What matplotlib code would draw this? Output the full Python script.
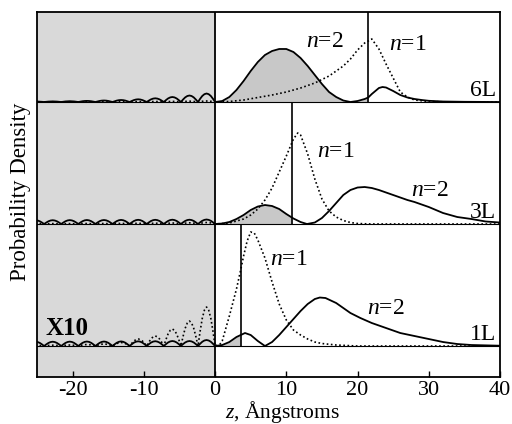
import matplotlib
matplotlib.use('Agg')
import matplotlib.pyplot as plt
import numpy as np

plt.rcParams['font.family'] = ['Liberation Serif', 'DejaVu Serif']
plt.rcParams['mathtext.fontset'] = 'custom'
plt.rcParams['mathtext.it'] = 'Liberation Serif:italic'
plt.rcParams['mathtext.rm'] = 'Liberation Serif'
plt.rcParams['axes.unicode_minus'] = False

# ---- data (probability density, arbitrary units) ----
panels = ['1L', '3L', '6L']
well_edge = [3.6, 10.8, 21.5]

# barrier side (z < 0): ripple nodes and the peak of each ripple, nearest z=0 first
ripple_nodes = [0, -2.4, -4.8, -7.2, -9.6, -12.0, -14.4, -16.8, -19.2, -21.6, -24.0, -26.4]
rip_1L_n1 = [39, 25, 17, 10, 7, 3.5, 2, 1.5, 1, 0.8, 0.6]
rip_1L_n2 = [6, 5, 5, 4.8, 4.7, 4.6, 4.5, 4.5, 4.4, 4.3, 4.3]
rip_3L_n1 = [1.5, 1.2, 1.0, 0.8, 0.7, 0.6, 0.5, 0.5, 0.4, 0.4, 0.4]
rip_3L_n2 = [4.5, 4.3, 4.3, 4.2, 4.2, 4.1, 4.0, 4.0, 3.9, 3.8, 3.8]
rip_6L_n1 = [1.0, 0.8, 0.6, 0.5, 0.4, 0.3, 0.3, 0.2, 0.2, 0.2, 0.2]
rip_6L_n2 = [8.5, 6.5, 5, 3.7, 2.7, 2, 1.5, 1.1, 0.8, 0.6, 0.5]

# film side (z >= 0)
z_1L_n1 = [0, 0.7, 1, 2, 3, 3.5, 4, 4.5, 5, 5.5, 6, 7, 8, 9, 10, 11, 12, 13, 14, 15, 17, 20, 40]
h_1L_n1 = [0, 2, 5, 30, 57, 73, 90, 105, 114, 113, 106, 88, 64, 42, 26, 16, 11, 7, 4, 2.5, 1, 0, 0]
z_1L_n2 = [0, 1, 2, 3, 3.6, 4.2, 5, 6, 7, 8, 9, 10, 11, 12, 13, 14, 14.7, 15.5, 17, 18, 19, 20.4,
           22, 24, 26, 28, 30, 32, 34, 36, 40]
h_1L_n2 = [0, 1, 4, 9, 11, 13, 11, 5, 0, 4, 11, 19, 27, 35, 42, 47, 48.5, 48, 43, 38, 33, 28,
           23, 18, 13, 10, 7, 4, 2, 1, 0.3]

z_3L_n1 = [0, 2, 4, 5, 6, 7, 8, 9, 10, 11, 11.6, 12, 13, 14, 15, 16, 17, 18, 19, 20, 22, 40]
h_3L_n1 = [0, 1, 5, 9, 15, 24, 36, 52, 68, 85, 91, 89, 70, 45, 25, 13, 7, 3.5, 1.5, 0.5, 0, 0]
z_3L_n2 = [0, 1, 2, 3, 4, 5, 6, 7, 8, 9, 10, 10.8, 11, 12, 12.9, 14, 15, 16, 17, 18, 19, 20, 21,
           22, 23, 24, 25, 26, 27, 28, 30, 32, 33, 34, 36, 38, 40]
h_3L_n2 = [0, 0.5, 2, 5, 9, 14, 17.5, 19, 18, 15, 10, 6.5, 5.5, 2, 0, 1.5, 6, 13, 21, 29, 34, 36.5,
           37, 36, 34, 31.5, 29, 26.5, 24, 22, 17, 11, 9, 7, 5, 2.5, 1.5]

z_6L_n1 = [0, 2, 4, 6, 8, 10, 12, 14, 16, 18, 19, 20, 21, 22, 23, 24, 25, 26, 27, 28, 30, 33, 40]
h_6L_n1 = [0, 0.5, 2, 4.5, 7, 10, 14, 19, 26, 36, 43, 52, 59, 63, 53, 38, 24, 10, 5, 2, 0.5, 0, 0]
z_6L_n2 = [0, 1, 2, 3, 4, 5, 6, 7, 8, 9, 10, 11, 12, 13, 14, 15, 16, 17, 18, 19, 20, 21, 21.5,
           22, 23, 23.5, 24, 25, 26, 27, 28, 29, 30, 32, 35, 40]
h_6L_n2 = [0, 1, 5, 12, 21, 31, 40, 47, 51, 53, 53, 50, 44, 36, 27, 18, 10, 5, 1.5, 0, 1, 3, 4.5,
           8, 14, 15, 14.5, 11, 7, 4.5, 3, 2, 1.2, 0.5, 0.2, 0]

# ---- layout ----
baselines = [31, 153, 275]
tops = [153, 275, 365]
arch_t = [0, 0.125, 0.25, 0.375, 0.5, 0.625, 0.75, 0.875, 1]
arch_s = [0, 0.38, 0.71, 0.92, 1.0, 0.92, 0.71, 0.38, 0]


def ripple(heights):
    zs, hs = [], []
    for i, h in enumerate(heights):
        z0, z1 = ripple_nodes[i], ripple_nodes[i + 1]
        for t, s in zip(arch_t, arch_s):
            zs.append(z0 + (z1 - z0) * t)
            hs.append(h * s)
    return zs[::-1], hs[::-1]


def curve(rip, z, h):
    rz, rh = ripple(rip)
    return np.array(rz + z[1:]), np.array(rh + h[1:])


data = {
    '1L': (curve(rip_1L_n1, z_1L_n1, h_1L_n1), curve(rip_1L_n2, z_1L_n2, h_1L_n2)),
    '3L': (curve(rip_3L_n1, z_3L_n1, h_3L_n1), curve(rip_3L_n2, z_3L_n2, h_3L_n2)),
    '6L': (curve(rip_6L_n1, z_6L_n1, h_6L_n1), curve(rip_6L_n2, z_6L_n2, h_6L_n2)),
}

fig = plt.figure(figsize=(5.12, 4.24), dpi=100)
ax = fig.add_axes([0.0723, 0.1108, 0.9043, 0.8609])
ax.set_xlim(-25, 40)
ax.set_ylim(0, 365)

ax.axvspan(-25, 0, color='#d9d9d9', lw=0, zorder=0)

for name, edge, b, top in zip(panels, well_edge, baselines, tops):
    (z1, h1), (z2, h2) = data[name]
    mask = (z2 >= 0) & (z2 <= edge)
    ax.fill_between(z2, b, b + h2, where=mask, color='#c8c8c8', lw=0, zorder=1)
    ax.axhline(b, color='k', lw=0.8, zorder=2)
    ax.plot(z1, b + h1, color='k', lw=1.2, ls=(0, (1, 1.5)), zorder=3)
    ax.plot(z2, b + h2, color='k', lw=1.3, zorder=4)
    ax.vlines(edge, b, top, color='k', lw=1.2, zorder=4)
    ax.text(39.5, b + 1.5, name, ha='right', va='bottom', fontsize=17)

ax.axvline(0, color='k', lw=1.3, zorder=5)

lab = dict(fontsize=17, ha='center', va='center')
ax.text(15.4, 336, r'$n$=2', **lab)
ax.text(27.1, 333, r'$n$=1', **lab)
ax.text(17.0, 226, r'$n$=1', **lab)
ax.text(30.2, 187, r'$n$=2', **lab)
ax.text(10.4, 118, r'$n$=1', **lab)
ax.text(24.0, 69, r'$n$=2', **lab)
ax.text(-20.8, 49, 'X10', fontsize=18, fontweight='bold', ha='center', va='center')

ax.set_xticks([-20, -10, 0, 10, 20, 30, 40])
ax.set_yticks([])
ax.tick_params(axis='x', direction='in', length=4, width=1, labelsize=16, pad=3)
for s in ax.spines.values():
    s.set_linewidth(1.3)

ax.set_xlabel(r'$z$, Ångstroms', fontsize=15.5)
ax.xaxis.set_label_coords(0.53, -0.061)
ax.set_ylabel('Probability Density', fontsize=16.5)
ax.yaxis.label.set_va('center')
ax.yaxis.set_label_coords(-0.035, 0.507)

fig.savefig('out.png', dpi=100)
